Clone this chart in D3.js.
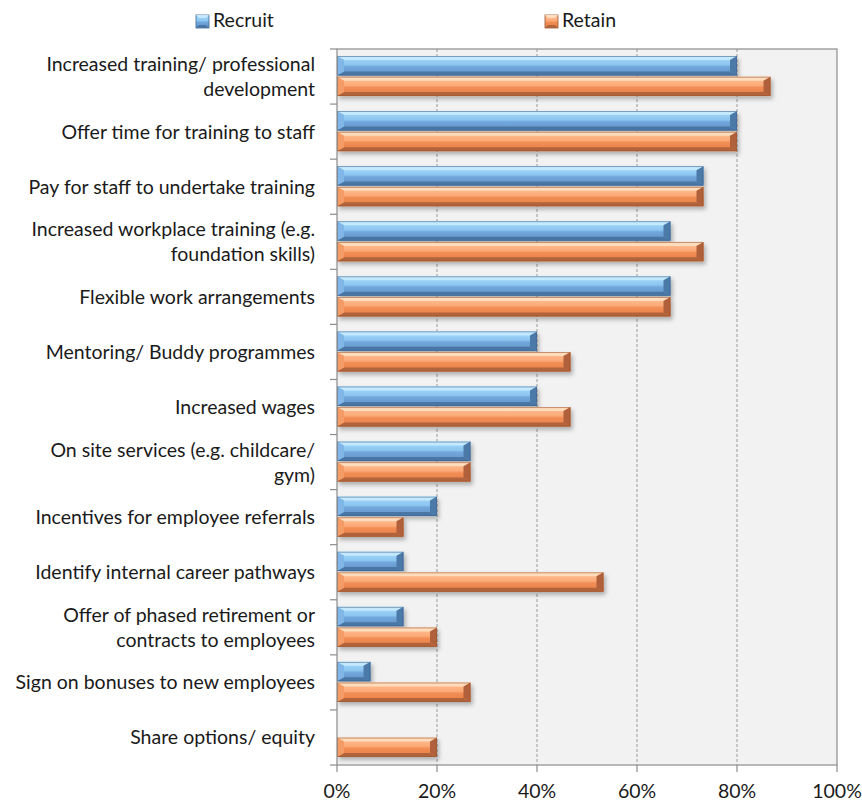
<!DOCTYPE html>
<html lang="en">
<head>
  <meta charset="UTF-8">
  <title>Recruit and Retain</title>
  <script src="https://d3js.org/d3.v7.min.js"></script>
  <style>
    body { margin: 0; background: #fff; font-family: Lato, "Open Sans", sans-serif; }
    text { fill: #1a1a1a; font-size: 19.5px; }
  </style>
</head>
<body>
  <svg width="862" height="803"></svg>

  <script>
    const categories = [
      "Increased training/ professional|development",
      "Offer time for training to staff",
      "Pay for staff to undertake training",
      "Increased workplace training (e.g.|foundation skills)",
      "Flexible work arrangements",
      "Mentoring/ Buddy programmes",
      "Increased wages",
      "On site services (e.g. childcare/|gym)",
      "Incentives for employee referrals",
      "Identify internal career pathways",
      "Offer of phased retirement or|contracts to employees",
      "Sign on bonuses to new employees",
      "Share options/ equity"
    ];
    const recruit = [80, 80, 73.3, 66.7, 66.7, 40, 40, 26.7, 20, 13.3, 13.3, 6.7, 0];
    const retain  = [86.7, 80, 73.3, 73.3, 66.7, 46.7, 46.7, 26.7, 13.3, 53.3, 20, 26.7, 20];
    const keys = ["Recruit", "Retain"];
    const xTicks = [0, 20, 40, 60, 80, 100];

    const svg = d3.select("svg"),
          margin = {top: 49, right: 25, bottom: 38, left: 337},
          width = +svg.attr("width") - margin.left - margin.right,
          height = +svg.attr("height") - margin.top - margin.bottom;

    const data = categories.map((c, i) => ({cat: c, Recruit: recruit[i], Retain: retain[i]}));

    // colours for the bevelled bars
    const pal = {
      Recruit: {top: "#c4e9fe", f0: "#a6dafb", f1: "#8cc5f0", f2: "#71a7dc", f3: "#6494c9",
                bottom: "#4a76a5", left: "#80b7e8", right: "#4c79a8", stroke: "#3e6790"},
      Retain:  {top: "#ffdcbc", f0: "#ffc196", f1: "#fcaa77", f2: "#f28d55", f3: "#e67f48",
                bottom: "#b1643a", left: "#f59c66", right: "#b0603a", stroke: "#9d5630"}
    };

    const defs = svg.append("defs");
    keys.forEach(k => {
      const p = pal[k];
      const gr = defs.append("linearGradient").attr("id", "grad-" + k)
        .attr("x1", 0).attr("y1", 0).attr("x2", 0).attr("y2", 1);
      gr.append("stop").attr("offset", "0%").attr("stop-color", p.f0);
      gr.append("stop").attr("offset", "45%").attr("stop-color", p.f1);
      gr.append("stop").attr("offset", "55%").attr("stop-color", p.f2);
      gr.append("stop").attr("offset", "100%").attr("stop-color", p.f3);
    });
    const shadow = defs.append("filter").attr("id", "shadow")
      .attr("x", "-10%").attr("y", "-30%").attr("width", "130%").attr("height", "180%");
    shadow.append("feDropShadow").attr("dx", 2).attr("dy", 3)
      .attr("stdDeviation", 2).attr("flood-color", "#000").attr("flood-opacity", 0.28);

    const g = svg.append("g").attr("transform", `translate(${margin.left},${margin.top})`);

    const x = d3.scaleLinear().domain([0, 100]).range([0, width]);
    const y0 = d3.scaleBand().domain(categories).range([0, height]).padding(0);
    const y1 = d3.scaleBand().domain(keys).range([7, y0.bandwidth() - 8]).paddingInner(0.06);

    // plot background
    g.append("rect").attr("width", width).attr("height", height).attr("fill", "#f2f2f2");

    // grid lines
    g.append("g").selectAll("line")
      .data(xTicks.slice(1, -1))
      .join("line")
        .attr("x1", d => x(d)).attr("x2", d => x(d))
        .attr("y1", 0).attr("y2", height)
        .attr("stroke", "#9a9a9a").attr("stroke-width", 1)
        .attr("stroke-dasharray", "3,2");

    // bevelled bar
    function bevelBar(sel, k, x0, x1, yt, yb) {
      const p = pal[k];
      const bv = 4, bh = Math.min(7, (x1 - x0) / 2);
      const grp = sel.append("g").attr("filter", "url(#shadow)");
      grp.append("rect").attr("x", x0).attr("y", yt).attr("width", x1 - x0).attr("height", yb - yt)
        .attr("fill", `url(#grad-${k})`);
      const poly = (pts, fill) => grp.append("polygon")
        .attr("points", pts.map(q => q.join(",")).join(" ")).attr("fill", fill);
      poly([[x0, yt], [x1, yt], [x1 - bh, yt + bv], [x0 + bh, yt + bv]], p.top);
      poly([[x0, yb], [x1, yb], [x1 - bh, yb - bv], [x0 + bh, yb - bv]], p.bottom);
      poly([[x0, yt], [x0 + bh, yt + bv], [x0 + bh, yb - bv], [x0, yb]], p.left);
      poly([[x1, yt], [x1 - bh, yt + bv], [x1 - bh, yb - bv], [x1, yb]], p.right);
      grp.append("rect").attr("x", x0 + 0.5).attr("y", yt + 0.5)
        .attr("width", Math.max(0, x1 - x0 - 1)).attr("height", yb - yt - 1)
        .attr("fill", "none").attr("stroke", p.stroke).attr("stroke-width", 0.8).attr("stroke-opacity", 0.7);
    }

    const groups = g.append("g").selectAll("g")
      .data(data)
      .join("g")
        .attr("transform", d => `translate(0,${y0(d.cat)})`);

    groups.each(function(d) {
      const sel = d3.select(this);
      keys.forEach(k => {
        if (d[k] <= 0) return;
        bevelBar(sel, k, x(0), x(d[k]), y1(k), y1(k) + y1.bandwidth());
      });
    });

    // plot border
    g.append("rect").attr("width", width).attr("height", height)
      .attr("fill", "none").attr("stroke", "#8c8c8c").attr("stroke-width", 1.2);

    // category tick marks on the left
    g.append("g").selectAll("line")
      .data(d3.range(categories.length + 1))
      .join("line")
        .attr("x1", -7).attr("x2", 0)
        .attr("y1", i => i * y0.bandwidth()).attr("y2", i => i * y0.bandwidth())
        .attr("stroke", "#8c8c8c").attr("stroke-width", 1.2);

    // category labels
    const lineH = 25;
    g.append("g").selectAll("text")
      .data(data)
      .join("text")
        .attr("text-anchor", "end")
        .attr("transform", d => `translate(-22,${y0(d.cat) + y0.bandwidth() / 2 + 7})`)
        .each(function(d) {
          const lines = d.cat.split("|");
          d3.select(this).selectAll("tspan")
            .data(lines)
            .join("tspan")
              .attr("x", 0)
              .attr("y", (l, i) => (i - (lines.length - 1) / 2) * lineH)
              .text(l => l);
        });

    // x axis
    const xAxis = g.append("g").attr("transform", `translate(0,${height})`);
    xAxis.selectAll("line")
      .data(xTicks)
      .join("line")
        .attr("x1", d => x(d)).attr("x2", d => x(d))
        .attr("y1", 0).attr("y2", 7)
        .attr("stroke", "#8c8c8c").attr("stroke-width", 1.2);
    xAxis.selectAll("text")
      .data(xTicks)
      .join("text")
        .attr("x", d => x(d)).attr("y", 33)
        .attr("text-anchor", "middle")
        .text(d => d + "%");

    // legend
    const legendPos = {Recruit: 196, Retain: 545};
    keys.forEach(k => {
      const lx = legendPos[k];
      const p = pal[k];
      const lg = svg.append("g");
      lg.append("rect").attr("x", lx).attr("y", 15).attr("width", 13).attr("height", 13)
        .attr("fill", `url(#grad-${k})`).attr("stroke", p.stroke).attr("stroke-width", 0.8);
      lg.append("polygon")
        .attr("points", `${lx},15 ${lx + 13},15 ${lx + 10},18 ${lx + 3},18`).attr("fill", p.top);
      lg.append("polygon")
        .attr("points", `${lx},28 ${lx + 13},28 ${lx + 10},25 ${lx + 3},25`).attr("fill", p.bottom);
      lg.append("text").attr("x", lx + 17).attr("y", 27).text(k);
    });
  </script>
</body>
</html>
